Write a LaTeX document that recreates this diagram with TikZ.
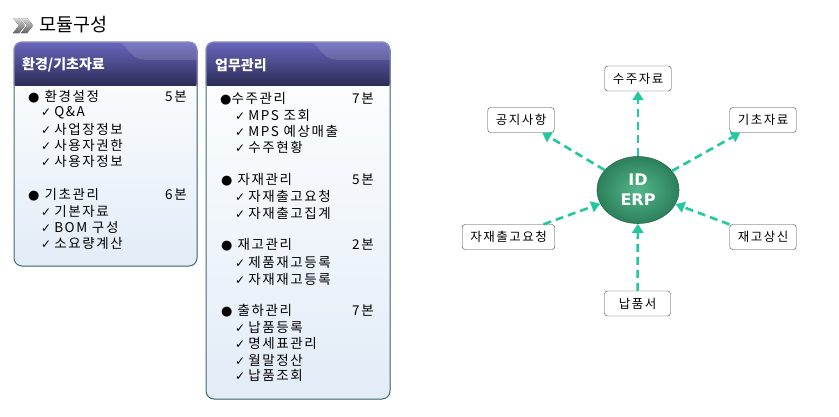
\documentclass[tikz,border=0pt]{standalone}
\usepackage{fontspec}
\setmainfont{Noto Sans CJK KR}
\newfontfamily\krw[LetterSpace=12]{Noto Sans CJK KR}
\newfontfamily\symf{DejaVu Sans}
\usetikzlibrary{arrows.meta,shapes.geometric}

\definecolor{flowc}{RGB}{34,200,158}
\definecolor{edgec}{RGB}{62,110,104}
\definecolor{headtop}{RGB}{104,102,188}
\definecolor{headbot}{RGB}{36,36,72}
\definecolor{bodybot}{RGB}{226,236,247}
\definecolor{erpin}{RGB}{84,182,138}
\definecolor{erpout}{RGB}{44,128,92}

\newcommand\chkmark{{\symf\fontsize{12}{10}\selectfont ✓}\hspace{3pt}}
\newcommand\blt{{\symf\fontsize{13}{10}\selectfont ●}}

\tikzset{
  grp/.style={anchor=west,inner sep=0pt,font=\krw\fontsize{13.5}{15}\selectfont},
  itm/.style={grp},
  cnt/.style={grp},
  headtxt/.style={anchor=west,inner sep=0pt,text=white,font=\bfseries\fontsize{14}{16}\selectfont},
  doc/.style={draw=black!75,fill=white,rounded corners=3pt,minimum width=66pt,
    minimum height=25pt,inner xsep=8pt,font=\krw\fontsize{12.5}{14}\selectfont},
  erp/.style={ellipse,minimum width=82pt,minimum height=67pt,inner color=erpin,
    outer color=erpout,draw=erpout!85!black,line width=.6pt,align=center,text=white,
    font=\symf\bfseries\fontsize{16}{20}\selectfont},
  flow/.style={draw=flowc,line width=2.6pt,dash pattern=on 8pt off 5pt,
    -{Triangle[length=9pt,width=11pt]}}
}

\begin{document}
\begin{tikzpicture}[x=1pt,y=-1pt]
  \useasboundingbox (0,0) rectangle (839,416);

  % title
  \foreach \s in {0,8}
    \fill[top color=gray!30,bottom color=gray!75!black]
      (13+\s,18) -- (19+\s,18) -- (25+\s,25.5) -- (19+\s,33) -- (13+\s,33) -- (19+\s,25.5) -- cycle;
  \node[anchor=west,inner sep=0pt,font=\fontsize{18.5}{20}\selectfont] (title) at (39,25) {모듈구성};

  % panels
  \foreach \l/\r/\b in {14/197/266, 206/390/399} {
    \fill[top color=white,bottom color=bodybot,rounded corners=8pt] (\l,42) rectangle (\r,\b);
    \draw[edgec,line width=1pt,rounded corners=8pt] (\l,42) rectangle (\r,\b);
    \begin{scope}
      \clip (\l-1,40) rectangle (\r+1,85);
      \fill[top color=headtop,bottom color=headbot,rounded corners=8pt] (\l,42) rectangle (\r,92);
      \fill[white,opacity=.13] (\l+104,42) .. controls (\l+114,44) and (\l+114,60) .. (\l+134,60)
        -- (\r,60) -- (\r,42) -- cycle;
      \draw[headtop!75!white,line width=1pt,rounded corners=8pt] (\l,42) rectangle (\r,92);
    \end{scope}
  }

  \node[headtxt] (h1) at (22,65) {환경/기초자료};
  \node[headtxt] (h2) at (215,65) {업무관리};

  % left panel
  \node[grp] (g1) at (28,97) {\blt\hspace{5pt}환경설정};
  \node[cnt] (c1) at (165,97) {5본};
  \foreach \y/\t [count=\i] in {113/Q\&A, 129/사업장정보, 145/사용자권한, 161/사용자정보}
    \node[itm] (a\i) at (41,\y) {\chkmark\t};
  \node[grp] (g2) at (28,195) {\blt\hspace{5pt}기초관리};
  \node[cnt] (c2) at (165,195) {6본};
  \foreach \y/\t [count=\i] in {211/기본자료, 227/BOM 구성, 243/소요량계산}
    \node[itm] (b\i) at (41,\y) {\chkmark\t};

  % right panel
  \node[grp] (g3) at (220,99) {\blt\hspace{0pt}수주관리};
  \node[cnt] (c3) at (352,99) {7본};
  \foreach \y/\t [count=\i] in {115/MPS 조회, 131/MPS 예상매출, 147/수주현황}
    \node[itm] (d\i) at (235,\y) {\chkmark\t};
  \node[grp] (g4) at (221,180) {\blt\hspace{5pt}자재관리};
  \node[cnt] (c4) at (352,180) {5본};
  \foreach \y/\t [count=\i] in {196/자재출고요청, 213/자재출고집계}
    \node[itm] (m\i) at (235,\y) {\chkmark\t};
  \node[grp] (g5) at (221,245) {\blt\hspace{5pt}재고관리};
  \node[cnt] (c5) at (352,245) {2본};
  \foreach \y/\t [count=\i] in {262/제품재고등록, 279/자재재고등록}
    \node[itm] (s\i) at (235,\y) {\chkmark\t};
  \node[grp] (g6) at (221,311) {\blt\hspace{5pt}출하관리};
  \node[cnt] (c6) at (352,311) {7본};
  \foreach \y/\t [count=\i] in {327/납품등록, 343/명세표관리, 360/월말정산, 375/납품조회}
    \node[itm] (o\i) at (235,\y) {\chkmark\t};

  % erp graph
  \node[erp] (erp) at (638,190) {ID\\ERP};
  \node[doc] (suju)   at (638,78.5)  {수주자료};
  \node[doc] (notice) at (521,120)   {공지사항};
  \node[doc] (basic)  at (763,120)   {기초자료};
  \node[doc] (req)    at (508.5,237) {자재출고요청};
  \node[doc] (report) at (763,237)   {재고상신};
  \node[doc] (deliv)  at (637.5,303.5) {납품서};

  \draw[flow] (erp) -- (suju);
  \draw[flow] (erp) -- (notice);
  \draw[flow] (erp) -- (basic);
  \draw[flow] (req) -- (erp);
  \draw[flow] (report) -- (erp);
  \draw[flow] (deliv) -- (erp);

\end{tikzpicture}
\end{document}
